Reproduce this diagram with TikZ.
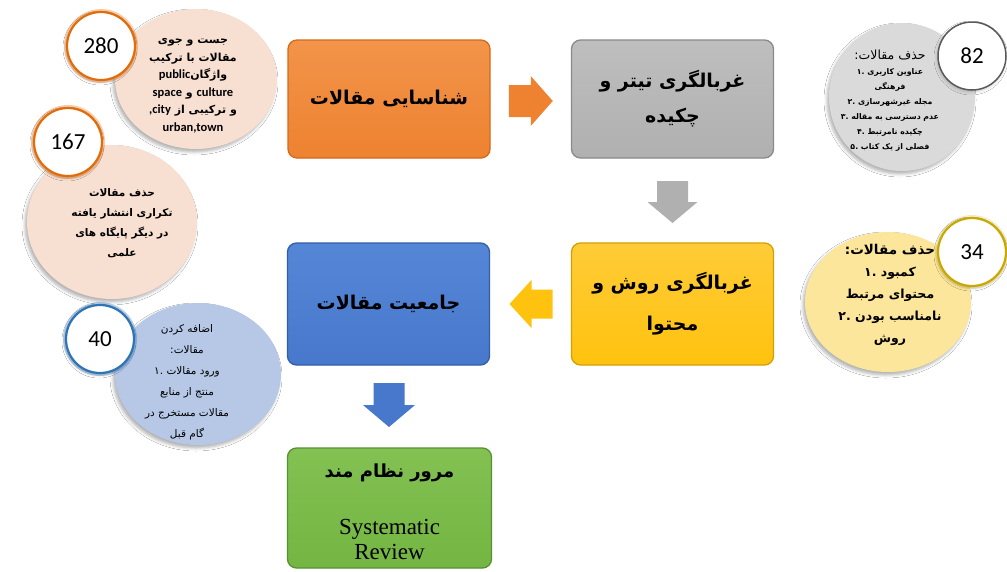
\documentclass[tikz,border=0pt]{standalone}
\usepackage{fontspec}
\setmainfont{Liberation Serif}
\newfontfamily\arabicfont[Script=Arabic]{DejaVu Sans}
\newfontfamily\numfont{Carlito}
\TeXXeTstate=1
\usetikzlibrary{calc,shadows.blur,shapes.geometric}
\newcommand{\fa}[1]{{\arabicfont\beginR #1\endR}}
\newcommand{\lt}[1]{\beginL{\numfont\bfseries\fontsize{12.5}{17}\selectfont #1}\endL}
\definecolor{bxorange}{HTML}{EE8230}
\definecolor{bxorangeL}{HTML}{F2944A}
\definecolor{bxorangeD}{HTML}{D46A1A}
\definecolor{bxgray}{HTML}{B0B0B0}
\definecolor{bxgrayL}{HTML}{BEBEBE}
\definecolor{bxgrayD}{HTML}{8A8A8A}
\definecolor{bxyellow}{HTML}{FFC20E}
\definecolor{bxyellowL}{HTML}{FFCC38}
\definecolor{bxyellowD}{HTML}{D4A000}
\definecolor{bxblue}{HTML}{4878CC}
\definecolor{bxblueL}{HTML}{5586D6}
\definecolor{bxblueD}{HTML}{335EA8}
\definecolor{bxgreen}{HTML}{74B543}
\definecolor{bxgreenL}{HTML}{82C152}
\definecolor{bxgreenD}{HTML}{579230}
\definecolor{cpeach}{HTML}{F7DFD1}
\definecolor{cgray}{HTML}{DADADA}
\definecolor{cyellow}{HTML}{FCE69C}
\definecolor{cblue}{HTML}{B6C8E6}
\definecolor{rorange}{HTML}{E36C0A}
\definecolor{rblue}{HTML}{2E74B5}
\definecolor{rgray}{HTML}{5A5A5A}
\definecolor{ryellow}{HTML}{C9A800}
\tikzset{
  stepbox/.style={rounded corners=9pt, inner sep=0pt, line width=1.3pt,
    minimum width=202pt, align=center,
    font=\arabicfont\bfseries\fontsize{19}{35}\selectfont},
  bigcirc/.style={ellipse, inner sep=0pt,
    blur shadow={shadow xshift=-2pt, shadow yshift=-3pt, shadow blur radius=3pt, shadow opacity=30}},
  numring/.style={circle, minimum size=68pt, inner sep=0pt, fill=white, line width=2.2pt,
    font=\numfont\fontsize{23}{23}\selectfont,
    blur shadow={shadow xshift=-1pt, shadow yshift=-2pt, shadow blur radius=3pt, shadow opacity=20}},
  glow/.style={circle, minimum size=68pt, inner sep=0pt, line width=6pt, draw opacity=0.35},
  ctext/.style={align=center, inner sep=0pt},
}
\begin{document}
\begin{tikzpicture}[x=1pt,y=-1pt]
\useasboundingbox[fill=white] (0,0) rectangle (1007,571);

% ---------- step boxes ----------
\node[stepbox, minimum height=118pt, top color=bxorangeL, bottom color=bxorange, draw=bxorangeD] (o) at (389,99) {\fa{شناسایی مقالات}};
\node[stepbox, minimum height=118pt, top color=bxgrayL, bottom color=bxgray, draw=bxgrayD] (g) at (672.5,99) {\fa{غربالگری تیتر و}\\\fa{چکیده}};
\node[stepbox, minimum height=122pt, top color=bxyellowL, bottom color=bxyellow, draw=bxyellowD] (ym) at (672.5,304) {\fa{غربالگری روش و}\\[6pt]\fa{محتوا}};
\node[stepbox, minimum height=122pt, top color=bxblueL, bottom color=bxblue, draw=bxblueD] (bl) at (388.5,304) {\fa{جامعیت مقالات}};
\node[stepbox, minimum height=120pt, minimum width=204pt, top color=bxgreenL, bottom color=bxgreen, draw=bxgreenD] (gr) at (389.5,508) {};
\node[ctext, font=\arabicfont\bfseries\fontsize{18}{20}\selectfont] (grfa) at ($(gr.north)+(0,26)$) {\fa{مرور نظام مند}};
\node[ctext, font=\fontsize{23}{25}\selectfont] (gren) at ($(gr.north)+(0,92)$) {Systematic\\Review};

% ---------- block arrows ----------
\coordinate (a1) at ($(o.east)!0.5!(g.west)+(0,2)$);
\fill[bxorange] (a1) ++(-22,-16) -- ++(22,0) -- ++(0,-9) -- ++(22,25) -- ++(-22,25) -- ++(0,-9) -- ++(-22,0) -- cycle;
\coordinate (a2) at ($(g.south)!0.5!(ym.north)$);
\fill[bxgray] (a2) ++(-15.5,-19.5) -- ++(31,0) -- ++(0,21) -- ++(9.5,0) -- ++(-25,21) -- ++(-25,-21) -- ++(9.5,0) -- cycle;
\coordinate (a3) at ($(ym.west)!0.5!(bl.east)$);
\fill[bxyellow] (a3) ++(22,-14.5) -- ++(-21,0) -- ++(0,-9.5) -- ++(-22,24) -- ++(22,24) -- ++(0,-9.5) -- ++(21,0) -- cycle;
\coordinate (a4) at ($(bl.south)!0.5!(gr.north)$);
\fill[bxblue] (a4) ++(-15.5,-23.5) -- ++(31,0) -- ++(0,22) -- ++(10.5,0) -- ++(-26,22) -- ++(-26,-22) -- ++(10.5,0) -- cycle;

% ---------- left circles ----------
\node[bigcirc, fill=cpeach, minimum width=170pt, minimum height=154pt] (c167) at (112,222) {};
\node[bigcirc, fill=cpeach, minimum width=162pt, minimum height=140pt] (c280) at (196,79) {};
\node[bigcirc, fill=cblue, minimum width=166pt, minimum height=142pt] (c40) at (198,374) {};

\node[ctext, font=\arabicfont\bfseries\fontsize{11}{17.5}\selectfont] (t280) at (193,86)
  {\fa{جست و جوی}\\\fa{مقالات با ترکیب}\\\fa{واژگان\lt{public}}\\
   \fa{\lt{culture} و \lt{space}}\\\fa{و ترکیبی از \lt{,city}}\\\lt{urban,town}};
\node[ctext, font=\arabicfont\bfseries\fontsize{10.5}{20}\selectfont] (t167) at (122,223)
  {\fa{حذف مقالات}\\\fa{تکراری انتشار یافته}\\\fa{در دیگر پایگاه های}\\\fa{علمی}};
\node[ctext, font=\arabicfont\fontsize{10.5}{21}\selectfont] (t40) at (187,382)
  {\fa{اضافه کردن}\\\fa{مقالات:}\\
   \beginL ۱\kern0pt.\ \beginR ورود مقالات\endR\endL\\
   \fa{منتج از منابع}\\\fa{مقالات مستخرج در}\\\fa{گام قبل}};

\node[glow, draw=rorange] (g280) at (101,46) {};
\node[numring, draw=rorange] (n280) at (101,46) {280};
\node[glow, draw=rorange] (g167) at (68,142) {};
\node[numring, draw=rorange] (n167) at (68,142) {167};
\node[glow, draw=rblue] (g40) at (100,339) {};
\node[numring, draw=rblue] (n40) at (100,339) {40};

% ---------- right circles ----------
\node[bigcirc, fill=cgray, minimum width=146pt, minimum height=148pt] (c82) at (902,97) {};
\node[bigcirc, fill=cyellow, minimum width=166pt, minimum height=140pt] (c34) at (888,302) {};

\node[ctext, font=\arabicfont\bfseries\fontsize{7.8}{15}\selectfont] (t82) at (890,101)
  {{\mdseries\fontsize{12.5}{15}\selectfont\fa{حذف مقالات:}}\\
   \beginL ۱\kern0pt.\ \beginR عناوین کاربری\endR\endL\\
   \fa{فرهنگی}\\
   \beginL ۲\kern0pt.\ \beginR مجله غیرشهرسازی\endR\endL\\
   \beginL ۳\kern0pt.\ \beginR عدم دسترسی به مقاله\endR\endL\\
   \beginL ۴\kern0pt.\ \beginR چکیده نامرتبط\endR\endL\\
   \beginL ۵\kern0pt.\ \beginR فصلی از یک کتاب\endR\endL};
\node[ctext, font=\arabicfont\bfseries\fontsize{12.5}{22}\selectfont] (t34) at (890,295)
  {{\fontsize{13.5}{22}\selectfont\fa{حذف مقالات:}}\\
   \beginL ۱\kern0pt.\ \beginR کمبود\endR\endL\\
   \fa{محتوای مرتبط}\\
   \beginL ۲\kern0pt.\ \beginR نامناسب بودن\endR\endL\\
   \fa{روش}};

\node[glow, draw=ryellow!60] (g34) at (972,252) {};
\node[numring, draw=rgray, line width=1.5pt] (n82) at (972,56) {82};
\node[numring, draw=ryellow] (n34) at (972,252) {34};
\end{tikzpicture}
\end{document}
